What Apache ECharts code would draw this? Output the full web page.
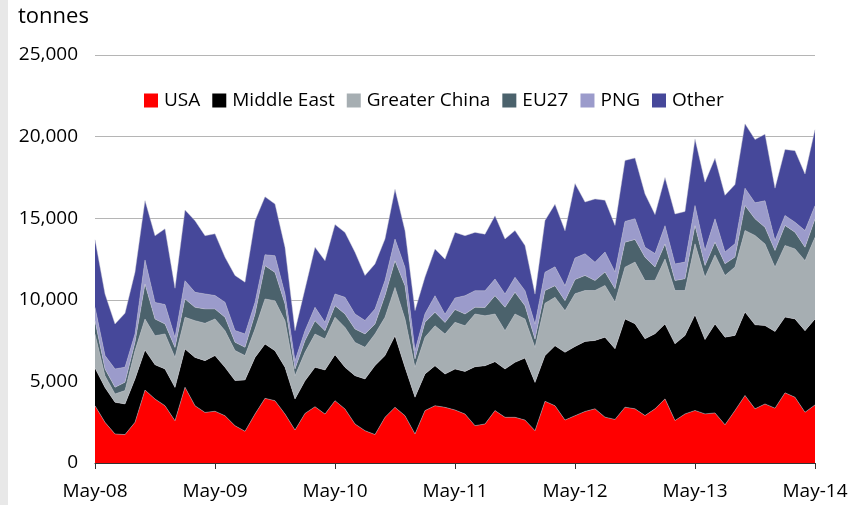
<!DOCTYPE html>
<html>
<head>
<meta charset="utf-8">
<script src="https://cdn.jsdelivr.net/npm/echarts@6/dist/echarts.min.js"></script>
<style>
    html, body { margin: 0; padding: 0; background: #fff; }
    #chart { width: 852px; height: 505px; }
</style>
</head>
<body>
<div id="chart"></div>
<script>
// monthly, May-08 .. May-14
const monthNames = ['May', 'Jun', 'Jul', 'Aug', 'Sep', 'Oct', 'Nov', 'Dec', 'Jan', 'Feb', 'Mar', 'Apr']
const months = []
for (let i = 0; i < 73; i++) {
    const yr = 8 + Math.floor((i + 4) / 12)
    months.push(monthNames[i % 12] + '-' + String(yr).padStart(2, '0'))
}

const seriesNames = ['USA', 'Middle East', 'Greater China', 'EU27', 'PNG', 'Other']

const usa = [3510, 2490, 1780, 1740, 2490, 4470, 3920, 3510, 2590, 4640, 3510, 3100,
    3170, 2900, 2290, 1940, 3000, 3960, 3820, 3000, 2020, 3040, 3450, 3000,
    3820, 3310, 2390, 1980, 1740, 2800, 3410, 2900, 1780, 3210, 3510, 3410,
    3250, 3000, 2290, 2390, 3210, 2800, 2800, 2630, 1980, 3780, 3510, 2630,
    2900, 3160, 3320, 2810, 2670, 3420, 3320, 2910, 3320, 3930, 2600, 3010,
    3220, 3010, 3070, 2340, 3220, 4140, 3320, 3620, 3360, 4300, 4030, 3110,
    3560]
const middleEast = [2310, 2140, 1940, 1880, 2660, 2450, 2100, 2250, 2040, 2350, 2960, 3170,
    3410, 2960, 2760, 3150, 3470, 3330, 3060, 2860, 1900, 2000, 2410, 2700,
    2820, 2550, 2960, 3170, 4230, 3780, 4390, 2960, 2250, 2250, 2450, 2040,
    2510, 2610, 3610, 3570, 3000, 2960, 3370, 3800, 2960, 2800, 3680, 4150,
    4240, 4290, 4190, 4900, 4330, 5410, 5210, 4700, 4600, 4590, 4700, 4800,
    5860, 4550, 5450, 5370, 4600, 5110, 5150, 4800, 4700, 4640, 4800, 5000,
    5270]
const greaterChina = [2080, 720, 510, 820, 1740, 1900, 1780, 2150, 1840, 1940, 2250, 2290,
    2250, 2250, 1840, 1490, 1740, 2760, 3060, 2860, 1430, 1740, 2040, 1900,
    2290, 2450, 2040, 1940, 1940, 2350, 2960, 2960, 1840, 2250, 2450, 2450,
    2860, 2800, 3230, 3060, 2920, 2350, 2960, 2390, 2140, 3210, 2960, 2550,
    3230, 3120, 3060, 3170, 2860, 3170, 3780, 3570, 3270, 3980, 3270, 2760,
    4350, 3820, 4230, 3780, 4190, 5000, 5470, 5000, 3940, 4390, 4290, 4290,
    5000]
const eu27 = [820, 410, 410, 510, 510, 2150, 1020, 610, 610, 1120, 820, 880,
    610, 820, 510, 510, 920, 2040, 1740, 1020, 410, 720, 820, 510,
    710, 820, 820, 820, 610, 1330, 1630, 2040, 510, 920, 820, 710,
    780, 720, 410, 510, 1120, 1430, 1330, 820, 510, 780, 710, 610,
    870, 920, 610, 820, 820, 1530, 1390, 1430, 820, 920, 610, 720,
    1120, 720, 780, 720, 610, 1530, 1020, 1020, 1020, 1230, 1020, 820,
    1120]
const png = [820, 820, 1120, 920, 510, 1470, 1020, 1190, 610, 1120, 920, 920,
    820, 920, 720, 820, 710, 670, 1020, 610, 510, 610, 820, 510,
    720, 1020, 920, 820, 920, 920, 1330, 1120, 510, 510, 1020, 510,
    710, 1120, 1020, 1020, 1020, 820, 920, 920, 920, 1120, 1160, 920,
    1320, 1330, 1120, 1230, 1020, 1270, 1270, 610, 820, 1120, 1020, 1020,
    1230, 920, 1430, 720, 820, 1060, 980, 1630, 610, 610, 610, 1020,
    820]
const other = [4150, 3780, 2760, 3310, 3780, 3640, 4080, 4640, 3020, 4330, 4390, 3570,
    3780, 2760, 3370, 3170, 5000, 3550, 3170, 2860, 1840, 2550, 3680, 3780,
    4250, 3980, 3780, 2760, 2760, 2550, 3060, 2250, 2450, 2250, 2860, 3370,
    4020, 3680, 3570, 3470, 3880, 3370, 2860, 2760, 1840, 3170, 3840, 3370,
    4570, 3170, 3880, 3170, 2860, 3740, 3720, 3270, 2390, 2960, 3060, 3100,
    4080, 4190, 3720, 3470, 3620, 3940, 3880, 4080, 3210, 4040, 4390, 3470,
    4660]

const colors = ['#ff0000', '#000000', '#a6aeb2', '#4b626c', '#9b9bcb', '#46489a']
const yTicks = [0, 5000, 10000, 15000, 20000, 25000]

const myChart = echarts.init(document.getElementById('chart'))

const dataList = [usa, middleEast, greaterChina, eu27, png, other]

const option = {
    animation: false,
    color: colors,
    textStyle: {
        fontFamily: 'Open Sans',
    },
    grid: {
        left: 95,
        right: 37,
        top: 55,
        bottom: 42,
    },
    graphic: [
        {
            type: 'rect',
            left: 0,
            top: 0,
            shape: { width: 8, height: 505 },
            style: { fill: '#e8e8e8' },
        },
        {
            type: 'text',
            left: 18,
            top: 6,
            style: {
                text: 'tonnes',
                fontSize: 22,
                fontFamily: 'Open Sans',
                fill: '#000',
            },
        },
    ],
    legend: {
        top: 86,
        left: 139,
        itemWidth: 14,
        itemHeight: 14,
        itemGap: 12,
        icon: 'rect',
        textStyle: {
            fontSize: 19,
            color: '#000',
            padding: [0, 0, 0, 1],
        },
        data: seriesNames,
    },
    xAxis: {
        type: 'category',
        data: months,
        boundaryGap: false,
        axisLine: {
            lineStyle: {
                color: '#333',
                width: 1,
            },
        },
        axisTick: {
            interval: 11,
            length: 6,
            lineStyle: { color: '#333' },
        },
        axisLabel: {
            interval: 11,
            color: '#000',
            fontSize: 19,
            margin: 19,
        },
        splitLine: { show: false },
    },
    yAxis: {
        type: 'value',
        min: yTicks[0],
        max: yTicks[yTicks.length - 1],
        interval: 5000,
        axisLine: { show: false },
        axisTick: { show: false },
        axisLabel: {
            color: '#000',
            fontSize: 19,
            margin: 17,
            formatter: val => val.toLocaleString('en-US'),
        },
        splitLine: {
            lineStyle: {
                color: '#b5b5b5',
                width: 1,
            },
        },
    },
    series: seriesNames.map((name, i) => ({
        name: name,
        type: 'line',
        stack: 'total',
        data: dataList[i],
        symbol: 'none',
        lineStyle: { width: 0.6, color: 'rgba(200,200,210,0.7)' },
        areaStyle: { color: colors[i], opacity: 1 },
        itemStyle: { color: colors[i] },
    })),
}

myChart.setOption(option)
</script>
</body>
</html>
